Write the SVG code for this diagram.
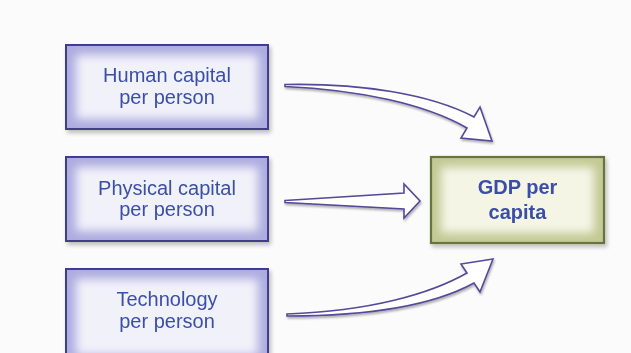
<svg xmlns="http://www.w3.org/2000/svg" width="631" height="353" viewBox="0 0 631 353">
  <defs>
    <filter id="soft" x="-20%" y="-20%" width="140%" height="140%">
      <feGaussianBlur stdDeviation="5"/>
    </filter>
    <filter id="shadow" x="-10%" y="-10%" width="130%" height="140%">
      <feGaussianBlur in="SourceAlpha" stdDeviation="2"/>
      <feOffset dx="2" dy="3" result="b"/>
      <feComponentTransfer><feFuncA type="linear" slope="0.25"/></feComponentTransfer>
      <feMerge><feMergeNode/><feMergeNode in="SourceGraphic"/></feMerge>
    </filter>
    <filter id="ashadow" x="-10%" y="-30%" width="130%" height="180%">
      <feGaussianBlur in="SourceAlpha" stdDeviation="1.2"/>
      <feOffset dx="1" dy="2" result="b"/>
      <feComponentTransfer><feFuncA type="linear" slope="0.3"/></feComponentTransfer>
      <feMerge><feMergeNode/><feMergeNode in="SourceGraphic"/></feMerge>
    </filter>
  </defs>
  <style>
    .bg { fill: #fbfbfb; }
    .boxOuter { fill: #aeacdf; stroke: #3f3d8c; stroke-width: 2; }
    .boxInner { fill: #f1f1fa; }
    .gdpOuter { fill: #c2c993; stroke: #66733c; stroke-width: 2.2; }
    .gdpInner { fill: #f5f5e6; }
    .lbl { font-family: "Liberation Sans", Arial, sans-serif; font-size: 20px; fill: #3a4fa6; text-anchor: middle; }
    .gdp { font-family: "Liberation Sans", Arial, sans-serif; font-size: 20px; font-weight: bold; fill: #3b4ea8; text-anchor: middle; }
    .arrow { fill: #ffffff; stroke: #54489a; stroke-width: 1.6; stroke-linejoin: miter; }
  </style>
  <rect class="bg" x="0" y="0" width="631" height="353"/>

  <g id="human-capital" filter="url(#shadow)">
    <rect class="boxOuter" x="66" y="45" width="202" height="84"/>
    <rect class="boxInner" x="76" y="55" width="182" height="64" filter="url(#soft)"/>
    <text class="lbl" x="167" y="82">Human capital</text>
    <text class="lbl" x="167" y="103.5">per person</text>
  </g>

  <g id="physical-capital" filter="url(#shadow)">
    <rect class="boxOuter" x="66" y="157" width="202" height="84"/>
    <rect class="boxInner" x="76" y="167" width="182" height="64" filter="url(#soft)"/>
    <text class="lbl" x="167" y="194.5">Physical capital</text>
    <text class="lbl" x="167" y="216">per person</text>
  </g>

  <g id="technology" filter="url(#shadow)">
    <rect class="boxOuter" x="66" y="269" width="202" height="90"/>
    <rect class="boxInner" x="76" y="279" width="182" height="76" filter="url(#soft)"/>
    <text class="lbl" x="167" y="306">Technology</text>
    <text class="lbl" x="167" y="328">per person</text>
  </g>

  <g id="gdp-per-capita" filter="url(#shadow)">
    <rect class="gdpOuter" x="431" y="157" width="173" height="86"/>
    <rect class="gdpInner" x="441" y="167" width="153" height="66" filter="url(#soft)"/>
    <text class="gdp" x="517.5" y="194">GDP per</text>
    <text class="gdp" x="517.5" y="219">capita</text>
  </g>

  <g id="connectors" filter="url(#ashadow)">
    <path class="arrow" d="M285,84.5 C360,83 430,94 474,117 L480,107 L492,141 L461,138 L467,128 C425,104 360,90 285,86.5 Z"/>
    <path class="arrow" d="M285,200.5 L404,193 L404,184 L420,201 L404,218 L404,209 L285,202.5 Z"/>
    <path class="arrow" d="M287,314 C370,311 430,294 467,273 L461,264 L493,259 L480,292 L474,283 C432,306 370,316 287,316 Z"/>
  </g>
</svg>
